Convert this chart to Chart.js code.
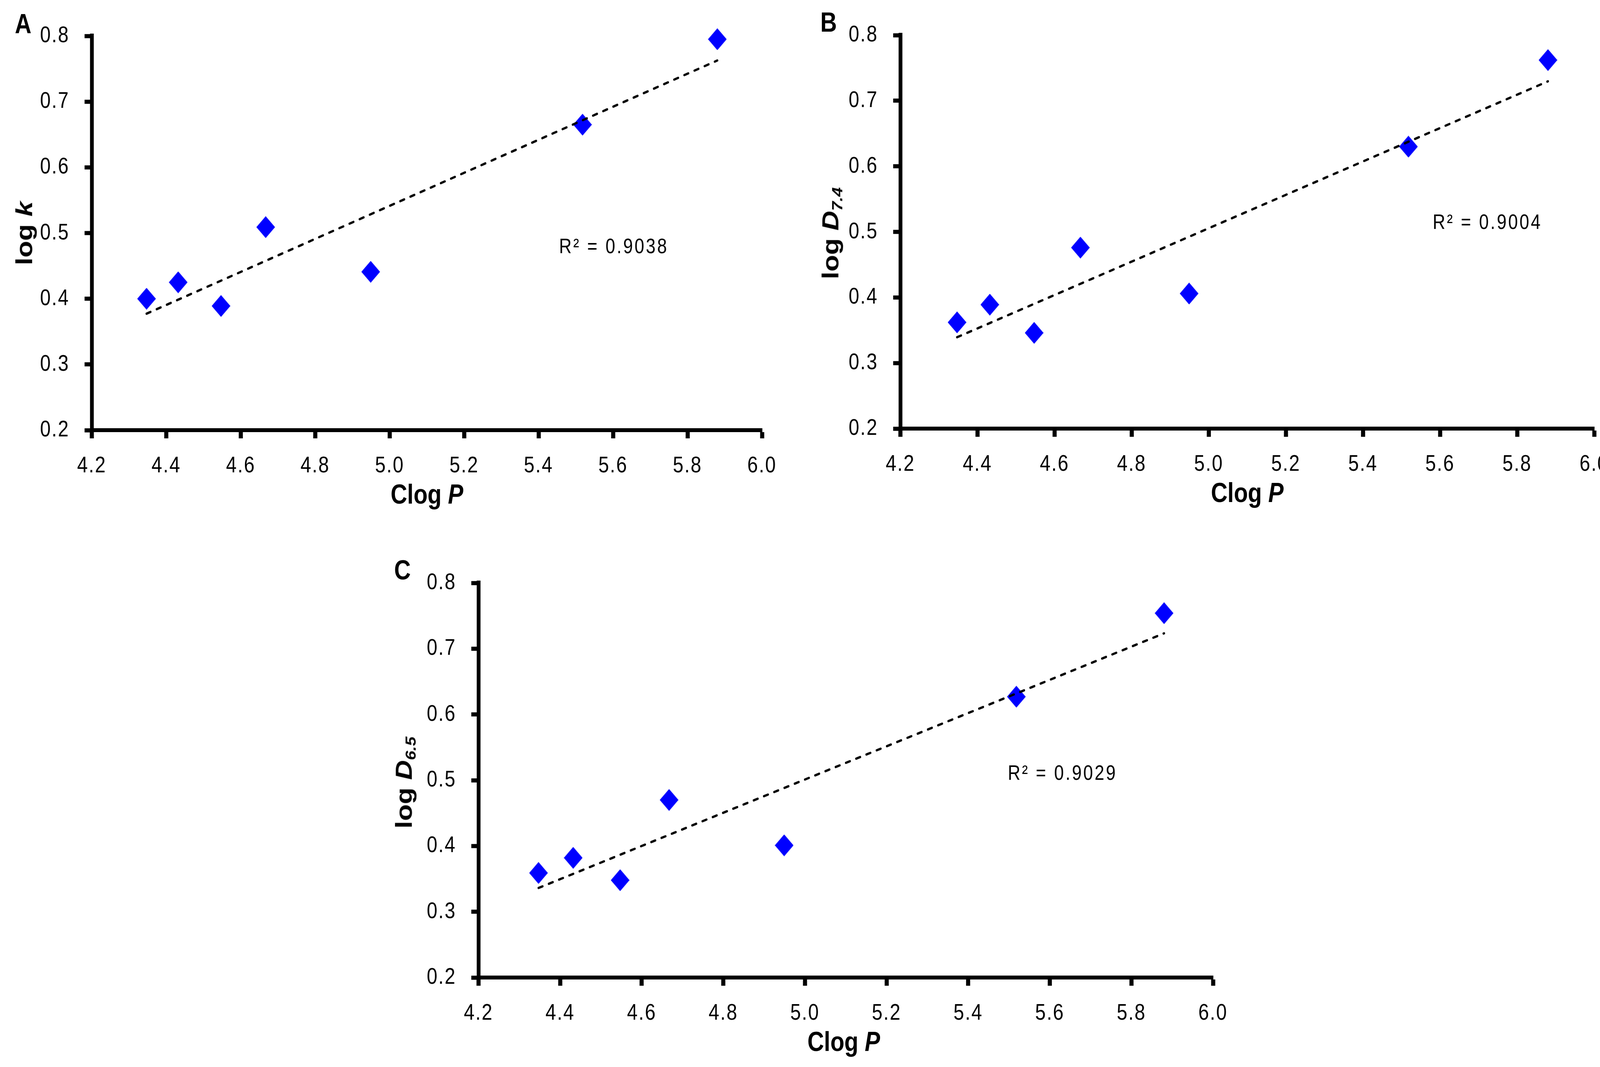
<!DOCTYPE html>
<html>
<head>
<meta charset="utf-8">
<script src="https://cdn.jsdelivr.net/npm/chart.js@4.4.1/dist/chart.umd.min.js"></script>
<style>
  body { margin: 0; background: #fff; }
  #page { position: relative; width: 4144px; height: 2731px; overflow: hidden; background: #fff; }
  #page canvas { position: absolute; transform-origin: 0 0; }
  .lbl { position: absolute; white-space: nowrap; line-height: 1; color: #000;
         font-family: 'Liberation Sans', Arial, sans-serif; font-weight: bold; font-size: 70px; }
  .letter { transform-origin: 0 0; transform: scaleX(0.84); }
  .xtitle { transform: translateX(-50%) scaleX(0.84); }
  .ytitle { transform: translate(-50%, -50%) rotate(-90deg) scale(1, 0.84); }
  sub { font-size: 0.62em; line-height: 0; vertical-align: -0.28em; font-style: italic; }
</style>
</head>
<body>
<div id="page">
  <canvas id="chartA"></canvas>
  <canvas id="chartB"></canvas>
  <canvas id="chartC"></canvas>

  <div class="lbl letter" style="left:38px; top:26px;">A</div>
  <div class="lbl letter" style="left:2100px; top:22px;">B</div>
  <div class="lbl letter" style="left:1009px; top:1424px;">C</div>

  <div class="lbl xtitle" style="left:1093px; top:1230px;">Clog <i>P</i></div>
  <div class="lbl xtitle" style="left:3193px; top:1226px;">Clog <i>P</i></div>
  <div class="lbl xtitle" style="left:2160px; top:2631px;">Clog <i>P</i></div>

  <div class="lbl ytitle" style="left:62px; top:597px;">log <i>k</i></div>
  <div class="lbl ytitle" style="left:2126px; top:597px;">log <i>D</i><sub>7.4</sub></div>
  <div class="lbl ytitle" style="left:1034px; top:2003px;">log <i>D</i><sub>6.5</sub></div>
</div>

<script>
// values
const clogP  = [4.347, 4.432, 4.547, 4.667, 4.949, 5.518, 5.880];
const logK   = [0.400, 0.425, 0.389, 0.509, 0.441, 0.665, 0.795];
const logD74 = [0.362, 0.389, 0.346, 0.476, 0.406, 0.630, 0.762];
const logD65 = [0.359, 0.382, 0.348, 0.470, 0.401, 0.627, 0.754];
const rSquared = [0.9038, 0.9004, 0.9029];

const xMin = 4.2, xMax = 6.0, xStep = 0.2;
const yMin = 0.2, yMax = 0.8, yStep = 0.1;

const font = "'Liberation Sans', Arial, sans-serif";
const squeeze = 0.84;   // the figure is narrower than it is tall

// panel boxes: plot area in page pixels, and where the R2 note sits (data coords)
const panels = [
  { id: 'chartA', ys: logK,   r2: rSquared[0], box: [235, 92, 1951, 1101],  note: [5.455, 0.478] },
  { id: 'chartB', ys: logD74, r2: rSquared[1], box: [2305, 90, 4081, 1097], note: [5.581, 0.513] },
  { id: 'chartC', ys: logD65, r2: rSquared[2], box: [1225, 1492, 3105, 2502], note: [5.497, 0.509] }
];

const yAxisW = 160, xAxisH = 140, padTop = 100, padRight = 110;

function diamond(w, h) {
    const c = document.createElement('canvas');
    c.width = w; c.height = h;
    const g = c.getContext('2d');
    g.fillStyle = '#0000ff';
    g.beginPath();
    g.moveTo(w / 2, 0);
    g.lineTo(w, h / 2);
    g.lineTo(w / 2, h);
    g.lineTo(0, h / 2);
    g.closePath();
    g.fill();
    return c;
}
const marker = diamond(Math.round(48 / squeeze), 56);

// least squares line over the data range, like the spreadsheet trendline
function trend(xs, ys) {
    const n = xs.length;
    const mx = xs.reduce((a, b) => a + b, 0) / n;
    const my = ys.reduce((a, b) => a + b, 0) / n;
    let sxy = 0, sxx = 0;
    for (let i = 0; i < n; i++) {
        sxy += (xs[i] - mx) * (ys[i] - my);
        sxx += (xs[i] - mx) * (xs[i] - mx);
    }
    const b = sxy / sxx, a = my - b * mx;
    const lo = Math.min(...xs), hi = Math.max(...xs);
    return [{ x: lo, y: a + b * lo }, { x: hi, y: a + b * hi }];
}

const spacing = {
    id: 'spacing',
    beforeDraw(chart) { chart.ctx.letterSpacing = '3px'; }
};

const r2Note = {
    id: 'r2Note',
    afterDatasetsDraw(chart, args, opts) {
        const { ctx, scales } = chart;
        const px = scales.x.getPixelForValue(opts.x);
        const py = scales.y.getPixelForValue(opts.y);
        ctx.save();
        ctx.fillStyle = '#000';
        ctx.font = '53px ' + font;
        ctx.letterSpacing = '5px';
        ctx.textAlign = 'left';
        ctx.textBaseline = 'middle';
        ctx.fillText('R\u00b2 = ' + opts.value.toFixed(4), px, py);
        ctx.restore();
    }
};

panels.forEach(p => {
    const [L, T, R, B] = p.box;
    const cv = document.getElementById(p.id);
    const yw = yAxisW / squeeze;
    const w = Math.round((R - L) / squeeze + yw + padRight);
    const h = B - T + padTop + xAxisH;
    cv.width = w; cv.height = h;
    cv.style.left = (L - yAxisW) + 'px';
    cv.style.top = (T - padTop) + 'px';
    cv.style.width = w + 'px';
    cv.style.height = h + 'px';
    cv.style.transform = 'scaleX(' + squeeze + ')';

    const points = clogP.map((x, i) => ({ x: x, y: p.ys[i] }));

    new Chart(cv.getContext('2d'), {
        type: 'scatter',
        data: {
            datasets: [
                {
                    data: trend(clogP, p.ys),
                    showLine: true,
                    borderColor: '#000',
                    borderWidth: 6,
                    borderDash: [13, 20],
                    borderCapStyle: 'round',
                    pointRadius: 0,
                    fill: false,
                    order: 0,
                    clip: false
                },
                {
                    data: points,
                    pointStyle: marker,
                    pointRadius: 24,
                    backgroundColor: '#0000ff',
                    borderColor: '#0000ff',
                    order: 1,
                    clip: false
                }
            ]
        },
        options: {
            responsive: false,
            maintainAspectRatio: false,
            animation: false,
            devicePixelRatio: 1,
            layout: { autoPadding: false, padding: { top: padTop, right: padRight, left: 0, bottom: 0 } },
            plugins: {
                legend: { display: false },
                tooltip: { enabled: false },
                r2Note: { x: p.note[0], y: p.note[1], value: p.r2 }
            },
            scales: {
                x: {
                    type: 'linear',
                    min: xMin, max: xMax,
                    afterFit: s => { s.height = xAxisH; },
                    border: { display: true, color: '#000', width: 10 },
                    grid: { drawOnChartArea: false, drawTicks: true, tickLength: 21, tickWidth: 12.5, tickColor: '#000' },
                    ticks: {
                        stepSize: xStep,
                        padding: 36,
                        color: '#000',
                        font: { family: font, size: 58 },
                        maxRotation: 0,
                        autoSkip: false,
                        callback: v => Number(v).toFixed(1)
                    }
                },
                y: {
                    type: 'linear',
                    min: yMin, max: yMax,
                    afterFit: s => { s.width = yw; },
                    border: { display: true, color: '#000', width: 11.5 },
                    grid: { drawOnChartArea: false, drawTicks: true, tickLength: 22, tickWidth: 10.5, tickColor: '#000' },
                    ticks: {
                        stepSize: yStep,
                        padding: 46,
                        color: '#000',
                        font: { family: font, size: 58 },
                        autoSkip: false,
                        callback: v => Number(v).toFixed(1)
                    }
                }
            }
        },
        plugins: [spacing, r2Note]
    });
});
</script>
</body>
</html>
